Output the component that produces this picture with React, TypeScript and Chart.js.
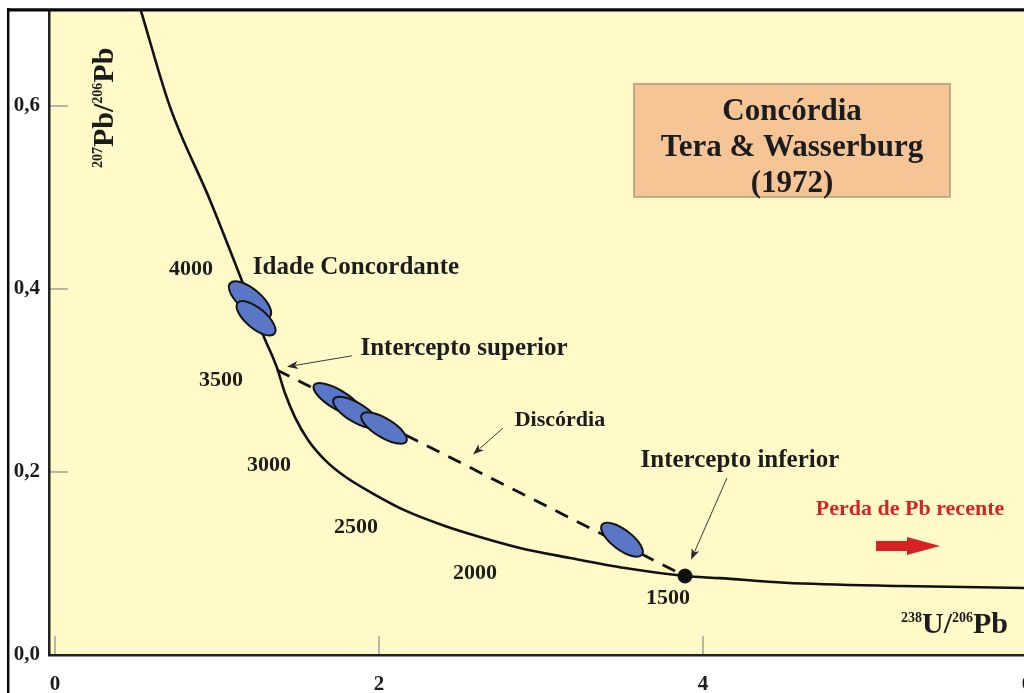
import React, { useEffect, useRef } from "react";
import { Chart, registerables } from "chart.js";

Chart.register(...registerables);

// ---- data ----
const concordiaX = [0.531, 0.71, 0.957, 1.123, 1.284, 1.37, 1.42, 1.481, 1.562, 1.667, 1.79, 1.957, 2.16, 2.407, 2.623, 2.87, 3.179, 3.519, 3.889, 4.105, 4.506, 5.216, 5.981, 6.216];
const concordiaY = [0.7038, 0.599, 0.497, 0.423, 0.35, 0.314, 0.286, 0.26, 0.235, 0.213, 0.195, 0.177, 0.158, 0.141, 0.129, 0.117, 0.106, 0.095, 0.0863, 0.084, 0.079, 0.0754, 0.0732, 0.0721];

const discordiaX = [1.37, 3.889];
const discordiaY = [0.3115, 0.0863];

const lowerInterceptX = [3.889];
const lowerInterceptY = [0.0863];

const ellipseX = [1.204, 1.241, 1.747, 1.858, 2.031, 3.5];
const ellipseY = [0.388, 0.368, 0.279, 0.265, 0.248, 0.126];

const ageLabels = ["4000", "3500", "3000", "2500", "2000", "1500"];
const ageLabelX = [0.84, 1.025, 1.321, 1.858, 2.593, 3.784];
const ageLabelY = [0.421, 0.3, 0.207, 0.139, 0.0897, 0.0624];

const xTicks = [0, 2, 4, 6];
const yTicks = [0, 0.2, 0.4, 0.6];

const X_MIN = -0.037;
const X_MAX = 6.1975;
const Y_MIN = 0;
const Y_MAX = 0.7038;

// ---- styles / layout ----
const FONT = "'Liberation Serif', 'Times New Roman', Times, serif";
const INK = "#1c1c1c";
const PLOT_BG = "#fffac8";
const ELLIPSE_FILL = "#5a76c6";
const ellipseShape = [
  { a: 26, b: 11, rot: 40 },
  { a: 24, b: 10, rot: 40 },
  { a: 28, b: 9.5, rot: 31 },
  { a: 26, b: 9.5, rot: 31 },
  { a: 26, b: 9.5, rot: 31 },
  { a: 25, b: 10, rot: 37 },
];

const textNotes = [
  { text: "Idade Concordante", x: 1.858, y: 0.423, size: 25, color: INK },
  { text: "Intercepto superior", x: 2.525, y: 0.3345, size: 25, color: INK },
  { text: "Discórdia", x: 3.117, y: 0.256, size: 22, color: INK },
  { text: "Intercepto inferior", x: 4.228, y: 0.212, size: 25, color: INK },
  { text: "Perda de Pb recente", x: 5.278, y: 0.159, size: 22, color: "#d42424" },
];

const thinArrows = [
  { x1: 1.833, y1: 0.327, x2: 1.432, y2: 0.315 },
  { x1: 2.765, y1: 0.248, x2: 2.58, y2: 0.219 },
  { x1: 4.148, y1: 0.1935, x2: 3.926, y2: 0.104 },
];

const redArrow = { x1: 5.068, x2: 5.463, y: 0.119 };

const titleBox = { x1: 3.574, x2: 5.525, y1: 0.6241, y2: 0.5006 };
const titleLines = ["Concórdia", "Tera & Wasserburg", "(1972)"];
const titleLineY = [0.5937, 0.5544, 0.515];

type Part = { t: string; sup?: boolean };

function drawRich(
  ctx: CanvasRenderingContext2D,
  parts: Part[],
  x: number,
  y: number,
  size: number,
  supSize: number,
  align: "left" | "center" | "right"
) {
  let total = 0;
  const widths = parts.map((p) => {
    ctx.font = `bold ${p.sup ? supSize : size}px ${FONT}`;
    const w = ctx.measureText(p.t).width;
    total += w;
    return w;
  });
  let cx = align === "left" ? x : align === "center" ? x - total / 2 : x - total;
  ctx.textAlign = "left";
  ctx.textBaseline = "alphabetic";
  parts.forEach((p, i) => {
    ctx.font = `bold ${p.sup ? supSize : size}px ${FONT}`;
    ctx.fillText(p.t, cx, p.sup ? y - size * 0.36 : y);
    cx += widths[i];
  });
}

function arrow(ctx: CanvasRenderingContext2D, x1: number, y1: number, x2: number, y2: number) {
  const ang = Math.atan2(y2 - y1, x2 - x1);
  const L = 11;
  const W = 4;
  ctx.strokeStyle = "#3a3a3a";
  ctx.fillStyle = "#2a2a2a";
  ctx.lineWidth = 1;
  ctx.beginPath();
  ctx.moveTo(x1, y1);
  ctx.lineTo(x2 - Math.cos(ang) * L * 0.8, y2 - Math.sin(ang) * L * 0.8);
  ctx.stroke();
  ctx.beginPath();
  ctx.moveTo(x2, y2);
  ctx.lineTo(x2 - Math.cos(ang) * L - Math.sin(ang) * W, y2 - Math.sin(ang) * L + Math.cos(ang) * W);
  ctx.lineTo(x2 - Math.cos(ang) * L * 0.75, y2 - Math.sin(ang) * L * 0.75);
  ctx.lineTo(x2 - Math.cos(ang) * L + Math.sin(ang) * W, y2 - Math.sin(ang) * L - Math.cos(ang) * W);
  ctx.closePath();
  ctx.fill();
}

const decorPlugin = {
  id: "decor",
  beforeDraw(chart: any) {
    const { ctx, chartArea: a, width, height } = chart;
    ctx.save();
    ctx.fillStyle = "#ffffff";
    ctx.fillRect(0, 0, width, height);
    ctx.fillStyle = PLOT_BG;
    ctx.fillRect(a.left, a.top, a.right - a.left, a.bottom - a.top);
    // tick marks inside plot
    const xs = chart.scales.x;
    const ys = chart.scales.y;
    ctx.strokeStyle = "#8a8a80";
    ctx.lineWidth = 1.2;
    yTicks.forEach((v) => {
      const py = ys.getPixelForValue(v);
      ctx.beginPath();
      ctx.moveTo(a.left, py);
      ctx.lineTo(a.left + 19, py);
      ctx.stroke();
    });
    xTicks.forEach((v) => {
      const px = xs.getPixelForValue(v);
      ctx.beginPath();
      ctx.moveTo(px, a.bottom);
      ctx.lineTo(px, a.bottom - 19);
      ctx.stroke();
    });
    ctx.restore();
  },
  afterDatasetsDraw(chart: any) {
    const { ctx } = chart;
    const xs = chart.scales.x;
    const ys = chart.scales.y;
    const X = (v: number) => xs.getPixelForValue(v);
    const Y = (v: number) => ys.getPixelForValue(v);
    ctx.save();

    // ellipses
    ellipseX.forEach((ex, i) => {
      const s = ellipseShape[i];
      ctx.beginPath();
      ctx.ellipse(X(ex), Y(ellipseY[i]), s.a, s.b, (s.rot * Math.PI) / 180, 0, Math.PI * 2);
      ctx.fillStyle = ELLIPSE_FILL;
      ctx.fill();
      ctx.lineWidth = 2;
      ctx.strokeStyle = "#141414";
      ctx.stroke();
    });

    // age labels
    ctx.fillStyle = INK;
    ctx.textAlign = "center";
    ctx.textBaseline = "middle";
    ctx.font = `bold 22px ${FONT}`;
    ageLabels.forEach((t, i) => {
      ctx.fillText(t, X(ageLabelX[i]), Y(ageLabelY[i]));
    });

    // text notes
    textNotes.forEach((n) => {
      ctx.fillStyle = n.color;
      ctx.font = `bold ${n.size}px ${FONT}`;
      ctx.textAlign = "center";
      ctx.textBaseline = "middle";
      ctx.fillText(n.text, X(n.x), Y(n.y));
    });

    // thin arrows
    thinArrows.forEach((r) => arrow(ctx, X(r.x1), Y(r.y1), X(r.x2), Y(r.y2)));

    // red arrow
    {
      const x1 = X(redArrow.x1);
      const x2 = X(redArrow.x2);
      const y = Y(redArrow.y);
      const head = 33;
      ctx.fillStyle = "#d62222";
      ctx.beginPath();
      ctx.moveTo(x1, y - 5);
      ctx.lineTo(x2 - head, y - 5);
      ctx.lineTo(x2 - head, y - 9);
      ctx.lineTo(x2, y);
      ctx.lineTo(x2 - head, y + 9);
      ctx.lineTo(x2 - head, y + 5);
      ctx.lineTo(x1, y + 5);
      ctx.closePath();
      ctx.fill();
    }

    // title box
    {
      const bx = X(titleBox.x1);
      const by = Y(titleBox.y1);
      const bw = X(titleBox.x2) - bx;
      const bh = Y(titleBox.y2) - by;
      ctx.fillStyle = "#f6c596";
      ctx.fillRect(bx, by, bw, bh);
      ctx.strokeStyle = "#b8977a";
      ctx.lineWidth = 1.5;
      ctx.strokeRect(bx, by, bw, bh);
      ctx.fillStyle = INK;
      ctx.font = `bold 31px ${FONT}`;
      ctx.textAlign = "center";
      ctx.textBaseline = "middle";
      titleLines.forEach((t, i) => ctx.fillText(t, bx + bw / 2, Y(titleLineY[i])));
    }

    // axis titles
    ctx.fillStyle = INK;
    drawRich(
      ctx,
      [{ t: "238", sup: true }, { t: "U/" }, { t: "206", sup: true }, { t: "Pb" }],
      X(5.883),
      Y(0.024),
      30,
      14,
      "right"
    );
    ctx.save();
    ctx.translate(X(0.358), Y(0.598));
    ctx.rotate(-Math.PI / 2);
    drawRich(
      ctx,
      [{ t: "207", sup: true }, { t: "Pb/" }, { t: "206", sup: true }, { t: "Pb" }],
      0,
      0,
      30,
      14,
      "center"
    );
    ctx.restore();

    ctx.restore();
  },
  afterDraw(chart: any) {
    const { ctx, width, height } = chart;
    ctx.save();
    ctx.strokeStyle = "#0a0a0a";
    ctx.lineWidth = 2.5;
    ctx.beginPath();
    ctx.moveTo(8.2, 8);
    ctx.lineTo(8.2, height);
    ctx.stroke();
    ctx.lineWidth = 3.2;
    ctx.beginPath();
    ctx.moveTo(7, 9.8);
    ctx.lineTo(width, 9.8);
    ctx.stroke();
    ctx.restore();
  },
};

export default function App() {
  const ref = useRef<HTMLCanvasElement | null>(null);

  useEffect(() => {
    if (!ref.current) return;
    const tickFont = { family: FONT, size: 21, weight: "bold" as const };
    const chart = new Chart(ref.current, {
      type: "scatter",
      data: {
        datasets: [
          {
            label: "Concórdia",
            data: concordiaX.map((x, i) => ({ x, y: concordiaY[i] })),
            showLine: true,
            borderColor: "#111111",
            borderWidth: 2.6,
            pointRadius: 0,
            cubicInterpolationMode: "monotone",
          },
          {
            label: "Discórdia",
            data: discordiaX.map((x, i) => ({ x, y: discordiaY[i] })),
            showLine: true,
            borderColor: "#111111",
            borderWidth: 2.8,
            borderDash: [14, 10],
            pointRadius: 0,
          },
          {
            label: "Intercepto inferior",
            data: lowerInterceptX.map((x, i) => ({ x, y: lowerInterceptY[i] })),
            showLine: false,
            pointRadius: 7,
            backgroundColor: "#111111",
            borderColor: "#111111",
          },
        ],
      },
      options: {
        responsive: false,
        animation: false,
        events: [],
        layout: { padding: { top: 11, right: 11, left: 0, bottom: 0 } },
        plugins: {
          legend: { display: false },
          tooltip: { enabled: false },
          title: { display: false },
        },
        scales: {
          x: {
            type: "linear",
            min: X_MIN,
            max: X_MAX,
            grid: { display: false, drawTicks: false },
            border: { display: true, color: "#222222", width: 2.5 },
            ticks: {
              color: INK,
              font: tickFont,
              padding: 17,
              maxRotation: 0,
              autoSkip: false,
              callback: (v: any) => String(v),
            },
            afterBuildTicks: (s: any) => {
              s.ticks = xTicks.map((v) => ({ value: v }));
            },
            afterFit: (s: any) => {
              s.height = 38;
              s.paddingLeft = 0;
              s.paddingRight = 0;
            },
          },
          y: {
            type: "linear",
            min: Y_MIN,
            max: Y_MAX,
            grid: { display: false, drawTicks: false },
            border: { display: true, color: "#222222", width: 2.5 },
            ticks: {
              color: INK,
              font: tickFont,
              padding: 9,
              autoSkip: false,
              callback: (v: any) => Number(v).toFixed(1).replace(".", ","),
            },
            afterBuildTicks: (s: any) => {
              s.ticks = yTicks.map((v) => ({ value: v }));
            },
            afterFit: (s: any) => {
              s.width = 49;
              s.paddingTop = 0;
              s.paddingBottom = 0;
            },
          },
        },
      } as any,
      plugins: [decorPlugin],
    });
    return () => chart.destroy();
  }, []);

  return (
    <div
      style={{
        position: "fixed",
        left: 0,
        top: 0,
        width: 1024,
        height: 693,
        overflow: "hidden",
        background: "#ffffff",
      }}
    >
      <canvas ref={ref} width={1070} height={693} style={{ display: "block", width: 1070, height: 693 }} />
    </div>
  );
}
